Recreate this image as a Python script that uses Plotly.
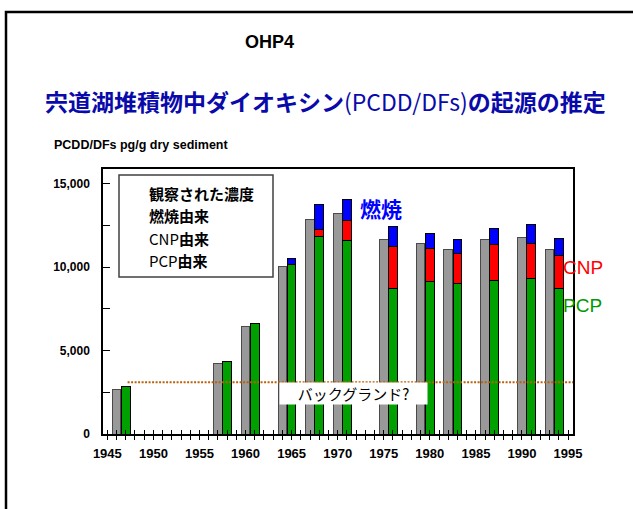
import plotly.graph_objects as go

# ---- data (pg/g dry sediment) ----
sample_years = [1946, 1957, 1960, 1964, 1967, 1970, 1975, 1979, 1982, 1986, 1990, 1993]
observed = [2640, 4220, 6420, 10050, 12870, 13250, 11650, 11430, 11070, 11650, 11790, 11070]
pcp_origin = [2820, 4360, 6610, 10150, 11850, 11610, 8710, 9130, 9040, 9220, 9340, 8710]
cnp_origin = [0, 0, 0, 0, 400, 1200, 2520, 2000, 1800, 2160, 2100, 2000]
combustion_origin = [0, 0, 0, 380, 1500, 1280, 1200, 920, 840, 920, 1100, 1000]
background_level = 3100
background_span = [1947.2, 1995.55]

x_tick_years = list(range(1945, 1996))
x_tick_labels = [str(y) if y % 5 == 0 else "" for y in x_tick_years]
y_tick_values = list(range(0, 15001, 2500))
y_tick_labels = ["0", "", "5,000", "", "10,000", "", "15,000"]

legend_lines = ["<b>観察された濃度</b>", "<b>燃焼由来</b>", "CNP<b>由来</b>", "PCP<b>由来</b>"]

FONT = "Arial, 'Liberation Sans', 'Noto Sans CJK JP', sans-serif"
JFONT = "'Noto Sans CJK JP', Arial, sans-serif"

X_RANGE = [1944.53, 1995.54]
Y_RANGE = [0, 15890]
BW = 0.95

stack_x = [y + 1 for y in sample_years]

fig = go.Figure()
fig.add_trace(go.Bar(x=sample_years, y=observed, width=BW, name="観察された濃度",
                     marker=dict(color="#999999", line=dict(color="#4a4a4a", width=1))))
fig.add_trace(go.Bar(x=stack_x, y=pcp_origin, width=BW, name="PCP由来",
                     marker=dict(color="#00A000", line=dict(color="#000000", width=1))))
fig.add_trace(go.Bar(x=stack_x, y=cnp_origin, width=BW, name="CNP由来",
                     marker=dict(color="#FF0000", line=dict(color="#000000", width=1))))
fig.add_trace(go.Bar(x=stack_x, y=combustion_origin, width=BW, name="燃焼由来",
                     marker=dict(color="#0000FF", line=dict(color="#000000", width=1))))
fig.add_trace(go.Scatter(x=background_span, y=[background_level, background_level],
                         mode="lines", xaxis="x2", yaxis="y",
                         line=dict(color="#B8620C", width=2, dash="2px,1.5px"),
                         showlegend=False, hoverinfo="skip"))

L, R, T, B = 103, 60, 169, 75
W, H = 633, 509
pw, ph = W - L - R, H - T - B


def px(x):
    return (x - L) / pw


def py(y):
    return (H - B - y) / ph


fig.update_layout(
    width=W, height=H,
    margin=dict(l=L, r=R, t=T, b=B, pad=0),
    barmode="stack",
    showlegend=False,
    plot_bgcolor="white", paper_bgcolor="white",
    font=dict(family=FONT, color="black"),
    xaxis=dict(range=X_RANGE, tickmode="array", tickvals=x_tick_years, ticktext=x_tick_labels,
               ticks="outside", ticklen=4, tickwidth=1, tickcolor="black",
               showline=True, linecolor="black", linewidth=2, mirror=True,
               showgrid=False, zeroline=False, ticklabelstandoff=2,
               tickfont=dict(size=13, family=FONT, weight="bold")),
    xaxis2=dict(range=X_RANGE, overlaying="x", anchor="y", side="bottom",
                tickmode="array", tickvals=x_tick_years, ticks="inside", ticklen=4,
                tickwidth=1, tickcolor="black", showticklabels=False,
                showline=False, showgrid=False, zeroline=False),
    yaxis=dict(range=Y_RANGE, tickmode="array", tickvals=y_tick_values, ticktext=y_tick_labels,
               ticks="inside", ticklen=7, tickwidth=1, tickcolor="black",
               showline=True, linecolor="black", linewidth=1.5, mirror=True,
               showgrid=False, zeroline=False, ticklabelstandoff=9,
               tickfont=dict(size=12, family=FONT, weight="bold")),
)

shapes = [
    dict(type="rect", xref="paper", yref="paper", x0=px(6), x1=px(700), y0=py(600), y1=py(12),
         line=dict(color="black", width=2.5), fillcolor="rgba(0,0,0,0)", layer="above"),
    dict(type="rect", xref="paper", yref="paper", x0=px(119), x1=px(273), y0=py(277), y1=py(175),
         line=dict(color="#404040", width=1.5), fillcolor="white", layer="above"),
]
fig.update_layout(shapes=shapes)


def note(text, x, y, size, family, color="black", weight="normal", xanchor="center", **kw):
    return dict(text=text, x=px(x), y=py(y), xref="paper", yref="paper",
                xanchor=xanchor, yanchor="middle", showarrow=False,
                font=dict(size=size, family=family, color=color, weight=weight), **kw)


ann = [
    note("OHP4", 269, 42, 18, FONT, weight="bold"),
    note("<b>宍道湖堆積物中ダイオキシン</b>(PCDD/DFs)<b>の起源の推定</b>", 325, 101, 23, JFONT,
         color="#0A0AAA"),
    note("PCDD/DFs pg/g dry sediment", 52, 145, 12.5, FONT, weight="bold", xanchor="left"),
    note("燃焼", 381, 208, 21, JFONT, color="#0000FF", weight="bold"),
    note("CNP", 561, 267, 19, FONT, color="#FF0000", xanchor="left"),
    note("PCP", 561, 305, 19, FONT, color="#009900", xanchor="left"),
    note("バックグランド?", 353.5, 393, 15, JFONT, bgcolor="white", width=147, borderpad=0),
]
for line, yy in zip(legend_lines, [193, 215.5, 238, 260.5]):
    ann.append(note(line, 147, yy, 15, JFONT, xanchor="left"))
fig.update_layout(annotations=ann)

fig.write_html("out.html", config={"displayModeBar": False},
               post_script="document.body.style.margin='0';")
